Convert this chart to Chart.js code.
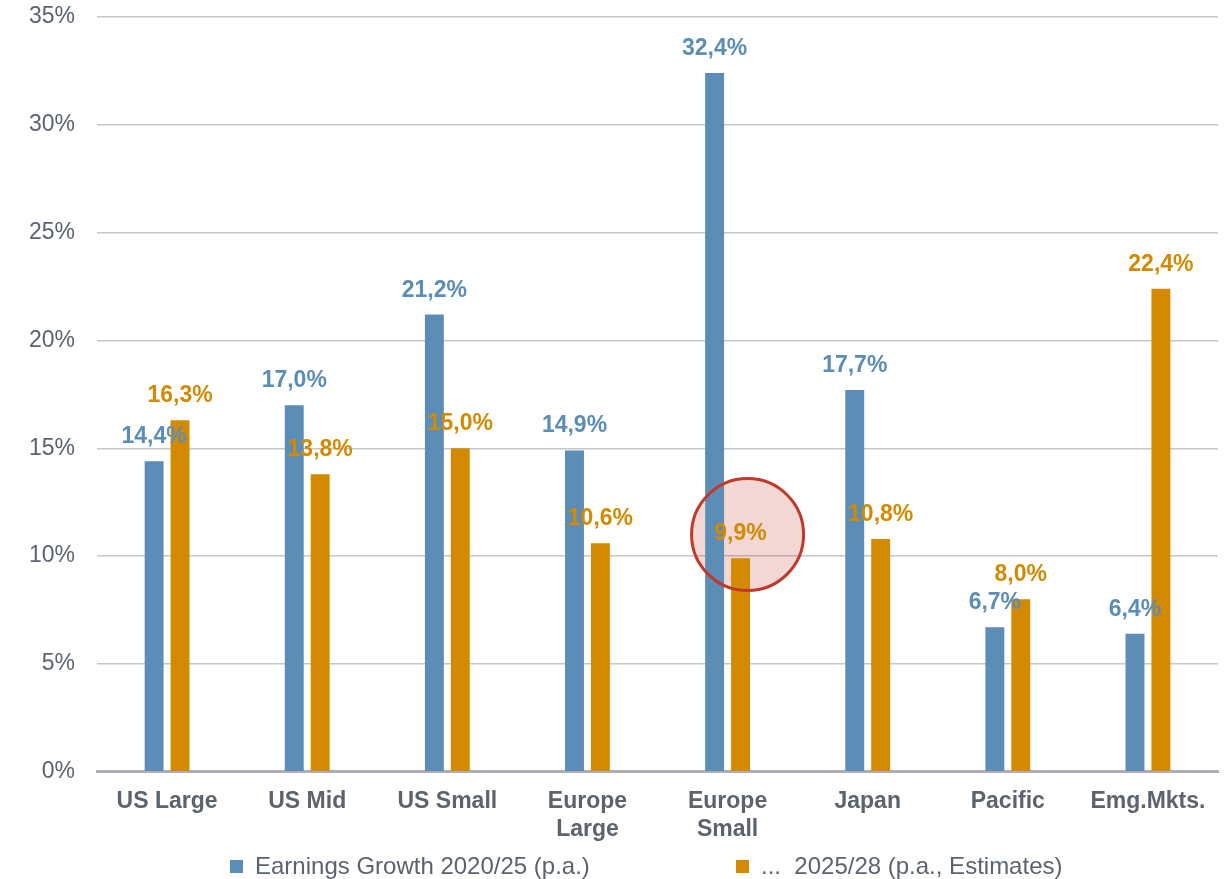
<!DOCTYPE html>
<html lang="en">
<head>
	<meta charset="UTF-8">
	<title>Earnings Growth</title>
	<script src="https://cdn.jsdelivr.net/npm/chart.js@4.4.1/dist/chart.umd.min.js"></script>
	<style>
		html, body { margin: 0; padding: 0; background: #fff; }
		#wrap { width: 1224px; height: 879px; }
	</style>
</head>
<body>
	<div id="wrap"><canvas id="bar-chart"></canvas></div>

	<script>
		// data
		const regions = ["US Large", "US Mid", "US Small", ["Europe", "Large"], ["Europe", "Small"], "Japan", "Pacific", "Emg.Mkts."];
		const growth2025 = [14.4, 17.0, 21.2, 14.9, 32.4, 17.7, 6.7, 6.4];
		const estimate2028 = [16.3, 13.8, 15.0, 10.6, 9.9, 10.8, 8.0, 22.4];
		const seriesNames = ["Earnings Growth 2020/25 (p.a.)", "...  2025/28 (p.a., Estimates)"];
		const yTicks = [0, 5, 10, 15, 20, 25, 30, 35];
		// circled point: category index + level on the y scale
		const highlight = { index: 4, value: 11 };

		const BLUE = '#5b8db6';
		const ORANGE = '#d48a00';
		const GREY = '#5b636d';

		Chart.defaults.font.family = '"Liberation Sans", Arial, sans-serif';

		function pct(v) {
			return v.toFixed(1).replace('.', ',') + '%';
		}

		// red circle round the 9,9% bar
		const circlePlugin = {
			id: 'circle',
			beforeDatasetsDraw(chart) {
				const c = circleAt(chart);
				const ctx = chart.ctx;
				ctx.save();
				ctx.beginPath();
				ctx.arc(c.x, c.y, 56, 0, Math.PI * 2);
				ctx.fillStyle = 'rgba(192,57,43,0.2)';
				ctx.fill();
				ctx.restore();
			},
			afterDatasetsDraw(chart) {
				const c = circleAt(chart);
				const ctx = chart.ctx;
				ctx.save();
				ctx.beginPath();
				ctx.arc(c.x, c.y, 56, 0, Math.PI * 2);
				ctx.strokeStyle = '#c0392b';
				ctx.lineWidth = 3;
				ctx.stroke();
				ctx.restore();
			}
		};
		function circleAt(chart) {
			return {
				x: chart.scales.x.getPixelForValue(highlight.index) + 20,
				y: chart.scales.y.getPixelForValue(highlight.value)
			};
		}

		// value labels on top of the bars
		const labelPlugin = {
			id: 'valueLabels',
			afterDatasetsDraw(chart) {
				const ctx = chart.ctx;
				ctx.save();
				ctx.font = 'bold 23px "Liberation Sans", Arial, sans-serif';
				ctx.textAlign = 'center';
				ctx.textBaseline = 'alphabetic';
				chart.data.datasets.forEach((ds, i) => {
					ctx.fillStyle = ds.backgroundColor;
					chart.getDatasetMeta(i).data.forEach((bar, j) => {
						ctx.fillText(pct(ds.data[j]), bar.x, bar.y - 18);
					});
				});
				ctx.restore();
			}
		};

		// legend spread out like the original
		const legendPlugin = {
			id: 'wideLegend',
			afterDraw(chart, args, opts) {
				const ctx = chart.ctx;
				const y = chart.height - opts.bottom;
				ctx.save();
				ctx.font = '24px "Liberation Sans", Arial, sans-serif';
				ctx.textBaseline = 'middle';
				chart.data.datasets.forEach((ds, i) => {
					const x = opts.starts[i];
					ctx.fillStyle = ds.backgroundColor;
					ctx.fillRect(x, y - 7, 13, 13);
					ctx.fillStyle = GREY;
					ctx.fillText(ds.label, x + 25, y);
				});
				ctx.restore();
			}
		};

		new Chart(document.getElementById('bar-chart'), {
			type: 'bar',
			data: {
				labels: regions,
				datasets: [
					{
						label: seriesNames[0],
						data: growth2025,
						backgroundColor: BLUE,
						categoryPercentage: 0.37,
						barPercentage: 0.73
					},
					{
						label: seriesNames[1],
						data: estimate2028,
						backgroundColor: ORANGE,
						categoryPercentage: 0.37,
						barPercentage: 0.73
					}
				]
			},
			options: {
				responsive: true,
				maintainAspectRatio: false,
				animation: false,
				layout: { padding: { left: 7, right: 6, top: 17, bottom: 28 } },
				plugins: {
					legend: { display: false },
					tooltip: { enabled: false },
					wideLegend: { starts: [230, 736], bottom: 12 }
				},
				scales: {
					x: {
						grid: { display: false },
						border: { color: '#aeadb7', width: 3 },
						ticks: {
							color: GREY,
							font: { size: 23, weight: 'bold' },
							padding: 8,
							maxRotation: 0,
							autoSkip: false
						}
					},
					y: {
						min: 0,
						max: 35,
						afterBuildTicks(scale) {
							scale.ticks = yTicks.map(v => ({ value: v }));
						},
						afterFit(scale) {
							scale.paddingTop = 0;
						},
						border: { display: false },
						grid: { color: '#c6c6cc', lineWidth: 1.5, drawTicks: false },
						ticks: {
							color: GREY,
							font: { size: 23 },
							padding: 22,
							callback: v => v + '%'
						}
					}
				}
			},
			plugins: [circlePlugin, labelPlugin, legendPlugin]
		});
	</script>
</body>
</html>
